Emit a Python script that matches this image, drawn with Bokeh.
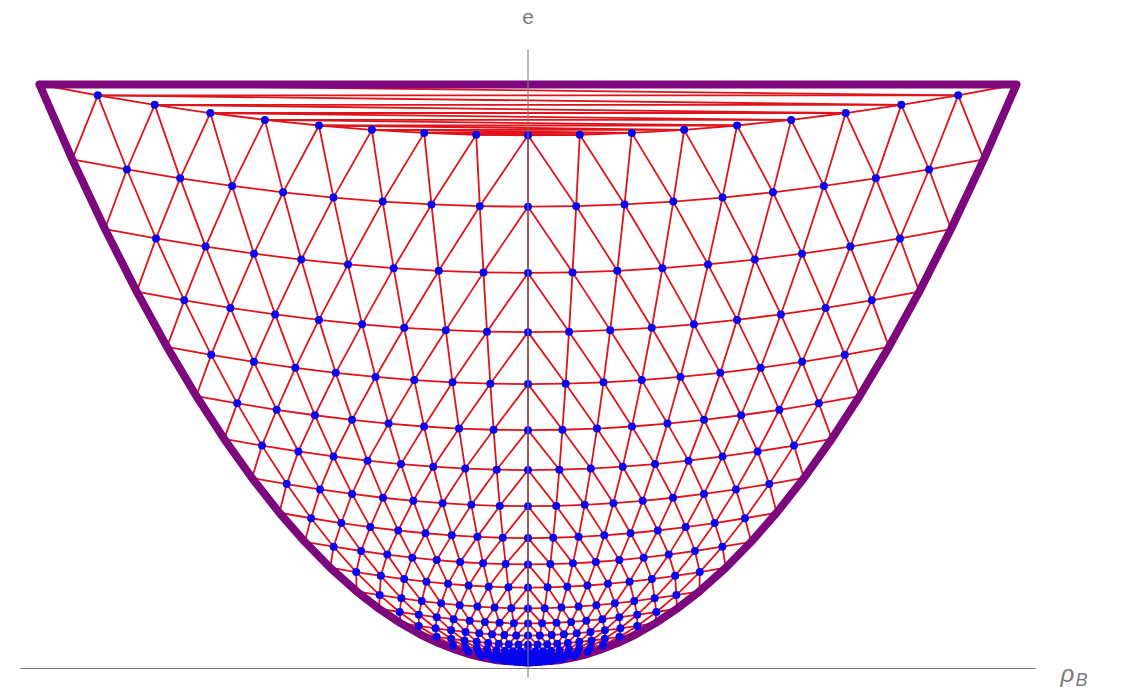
import numpy as np
from bokeh.plotting import figure
from bokeh.models import Range1d, Label
from bokeh.embed import file_html
from bokeh.resources import INLINE

# Mesh columns: rho / sqrt(e) along each column (the outer columns lie on the boundary e = rho^2)
column_s = [-1.0, -0.889, -0.778, -0.667, -0.556, -0.444, -0.333, -0.222, -0.111, 0.0,
            0.111, 0.222, 0.333, 0.444, 0.556, 0.667, 0.778, 0.889, 1.0]

# sqrt(e) of every mesh row on the centre line, top row first
row_r0 = [0.955, 0.888, 0.821, 0.756, 0.694, 0.634, 0.577, 0.520, 0.464, 0.412,
          0.360, 0.306, 0.260, 0.216, 0.175, 0.137, 0.102, 0.070, 0.042, 0.018]

# rise of each row in sqrt(e) from the centre line out to the boundary columns
row_bow = 0.045

RED = "#e0131a"
BLUE = "#0505f0"
PURPLE = "#7d087d"
GREY = "#7a7a7a"

s = np.array(column_s)
r0 = np.array(row_r0)
R = r0[:, None] + row_bow * s[None, :] ** 2          # sqrt(e) of each node
RHO = s[None, :] * R
E = R ** 2
nrow, ncol = R.shape
mid = ncol // 2

x0, y0, x1, y1 = [], [], [], []


def edge(a, b):
    x0.append(RHO[a]); y0.append(E[a]); x1.append(RHO[b]); y1.append(E[b])


# edges along rows
for j in range(nrow):
    for k in range(ncol - 1):
        edge((j, k), (j, k + 1))

# edges between neighbouring rows: columns plus one diagonal per cell,
# leaning outward on either side of the centre column
for j in range(nrow - 1):
    for k in range(ncol):
        edge((j, k), (j + 1, k))
        if k <= mid and k - 1 >= 0:
            edge((j, k), (j + 1, k - 1))
        if k >= mid and k + 1 < ncol:
            edge((j, k), (j + 1, k + 1))

# thin triangles between the top row and the straight edge e = 1
top = ncol - 1
for a in range(0, mid):
    b = top - 1 - a
    if b - a >= 2:
        edge((0, a), (0, b))
    b2 = top - a
    if a >= 1 and b2 - a >= 2:
        edge((0, a), (0, b2))

# lowest row closes onto the origin
for k in range(ncol):
    x0.append(RHO[-1, k]); y0.append(E[-1, k]); x1.append(0.0); y1.append(0.0)

# pixel frame: origin of the mesh at (527.5, 662), 488.5 px per unit rho, 578 px per unit e
p = figure(width=1122, height=690, output_backend="svg", toolbar_location=None,
           x_range=Range1d(-527.5 / 488.5, (1122 - 527.5) / 488.5),
           y_range=Range1d((662 - 690) / 578, 662 / 578),
           min_border=0, outline_line_color=None, background_fill_color="white")
p.xaxis.visible = False
p.yaxis.visible = False
p.xgrid.visible = False
p.ygrid.visible = False

p.segment(x0=x0, y0=y0, x1=x1, y1=y1, line_color=RED, line_width=1.8)

# boundary: left column, origin, right column, closed by the top edge
bx = list(RHO[:, 0]) + [0.0] + list(RHO[::-1, -1]) + [RHO[0, 0]]
by = list(E[:, 0]) + [0.0] + list(E[::-1, -1]) + [E[0, 0]]
p.line(bx, by, line_color=PURPLE, line_width=8, line_join="round", line_cap="round")

# interior nodes
p.scatter(RHO[:, 1:-1].ravel(), E[:, 1:-1].ravel(), size=8, fill_color=BLUE,
          line_color=BLUE, line_width=0)

# coordinate axes, drawn over the mesh
p.segment(x0=[-1.039], y0=[-0.0104], x1=[1.039], y1=[-0.0104], line_color=GREY, line_width=1.2)
p.segment(x0=[0.0], y0=[-0.026], x1=[0.0], y1=[1.06], line_color=GREY, line_width=1.2,
          line_alpha=0.9)

p.add_layout(Label(x=0.0, y=(662 - 16) / 578, text="e", text_align="center",
                   text_baseline="middle", text_font="Liberation Sans",
                   text_font_size="21px", text_color=GREY))
p.add_layout(Label(x=(1060 - 527.5) / 488.5, y=(662 - 673) / 578, text="ρ",
                   text_align="left", text_baseline="alphabetic", text_font="Liberation Sans",
                   text_font_style="italic", text_font_size="24px", text_color=GREY))
p.add_layout(Label(x=(1075 - 527.5) / 488.5, y=(662 - 679) / 578, text="B",
                   text_align="left", text_baseline="alphabetic", text_font="Liberation Sans",
                   text_font_style="italic", text_font_size="18px", text_color=GREY))

open("out.html", "w").write(file_html(p, INLINE))
